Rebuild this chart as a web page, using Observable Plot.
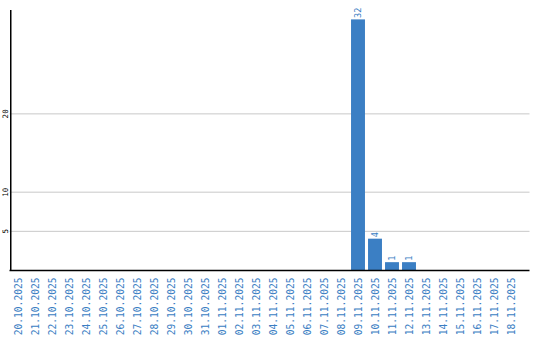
<!DOCTYPE html>
<html>
<head>
<meta charset="utf-8">
<script src="https://cdn.jsdelivr.net/npm/d3@7"></script>
<script src="https://cdn.jsdelivr.net/npm/@observablehq/plot@0.6"></script>
<style>
  html, body { margin: 0; padding: 0; background: #fff; }
</style>
</head>
<body>
<div id="chart"></div>
<script>
const dates = [
  "20.10.2025","21.10.2025","22.10.2025","23.10.2025","24.10.2025","25.10.2025",
  "26.10.2025","27.10.2025","28.10.2025","29.10.2025","30.10.2025","31.10.2025",
  "01.11.2025","02.11.2025","03.11.2025","04.11.2025","05.11.2025","06.11.2025",
  "07.11.2025","08.11.2025","09.11.2025","10.11.2025","11.11.2025","12.11.2025",
  "13.11.2025","14.11.2025","15.11.2025","16.11.2025","17.11.2025","18.11.2025"
];
const counts = [
  0,0,0,0,0,0,
  0,0,0,0,0,0,
  0,0,0,0,0,0,
  0,0,32,4,1,1,
  0,0,0,0,0,0
];
const yTicks = [5, 10, 20];
const yMax = 33.2;

const data = dates.map((d, i) => ({date: d, count: counts[i]}));
const W = 540, H = 340;
const ml = 9.5, mr = 20.5;
const step = (W - ml - mr) / dates.length;
const blue = "#3a7ec3";

const chart = Plot.plot({
  width: W,
  height: H,
  marginLeft: ml,
  marginRight: mr,
  marginTop: 10,
  marginBottom: 70,
  style: {fontFamily: "DejaVu Sans Mono", background: "#fff"},
  x: {type: "band", domain: dates, paddingInner: 0.18, paddingOuter: 0.09, round: false, axis: null},
  y: {domain: [0, yMax], axis: null},
  marks: [
    Plot.ruleY(yTicks, {stroke: "#c8c8c8", strokeWidth: 1, insetRight: -10}),
    Plot.barY(data.filter(d => d.count > 0), {x: "date", y: "count", fill: "#3b7fc4"}),
    Plot.text(data.filter(d => d.count > 0), {
      x: "date", y: "count", text: d => String(d.count),
      rotate: -90, textAnchor: "start", dy: -2, fill: blue, fontSize: 8.5
    }),
    Plot.ruleY([0], {stroke: "#000", strokeWidth: 1.5, insetRight: -10}),
    Plot.ruleX([dates[0]], {x: d => d, y1: 0, y2: yMax, dx: -step / 2 + 0.75, stroke: "#000", strokeWidth: 1.5}),
    Plot.text(yTicks, {
      y: d => d, text: d => String(d), frameAnchor: "left", dx: -4.5,
      rotate: -90, textAnchor: "middle", fill: "#000", fontSize: 7.5
    }),
    Plot.axisX({
      tickRotate: -90, tickSize: 0, tickPadding: 7, color: blue,
      fontSize: 9.6, label: null
    })
  ]
});
document.getElementById("chart").appendChild(chart);
</script>
</body>
</html>
